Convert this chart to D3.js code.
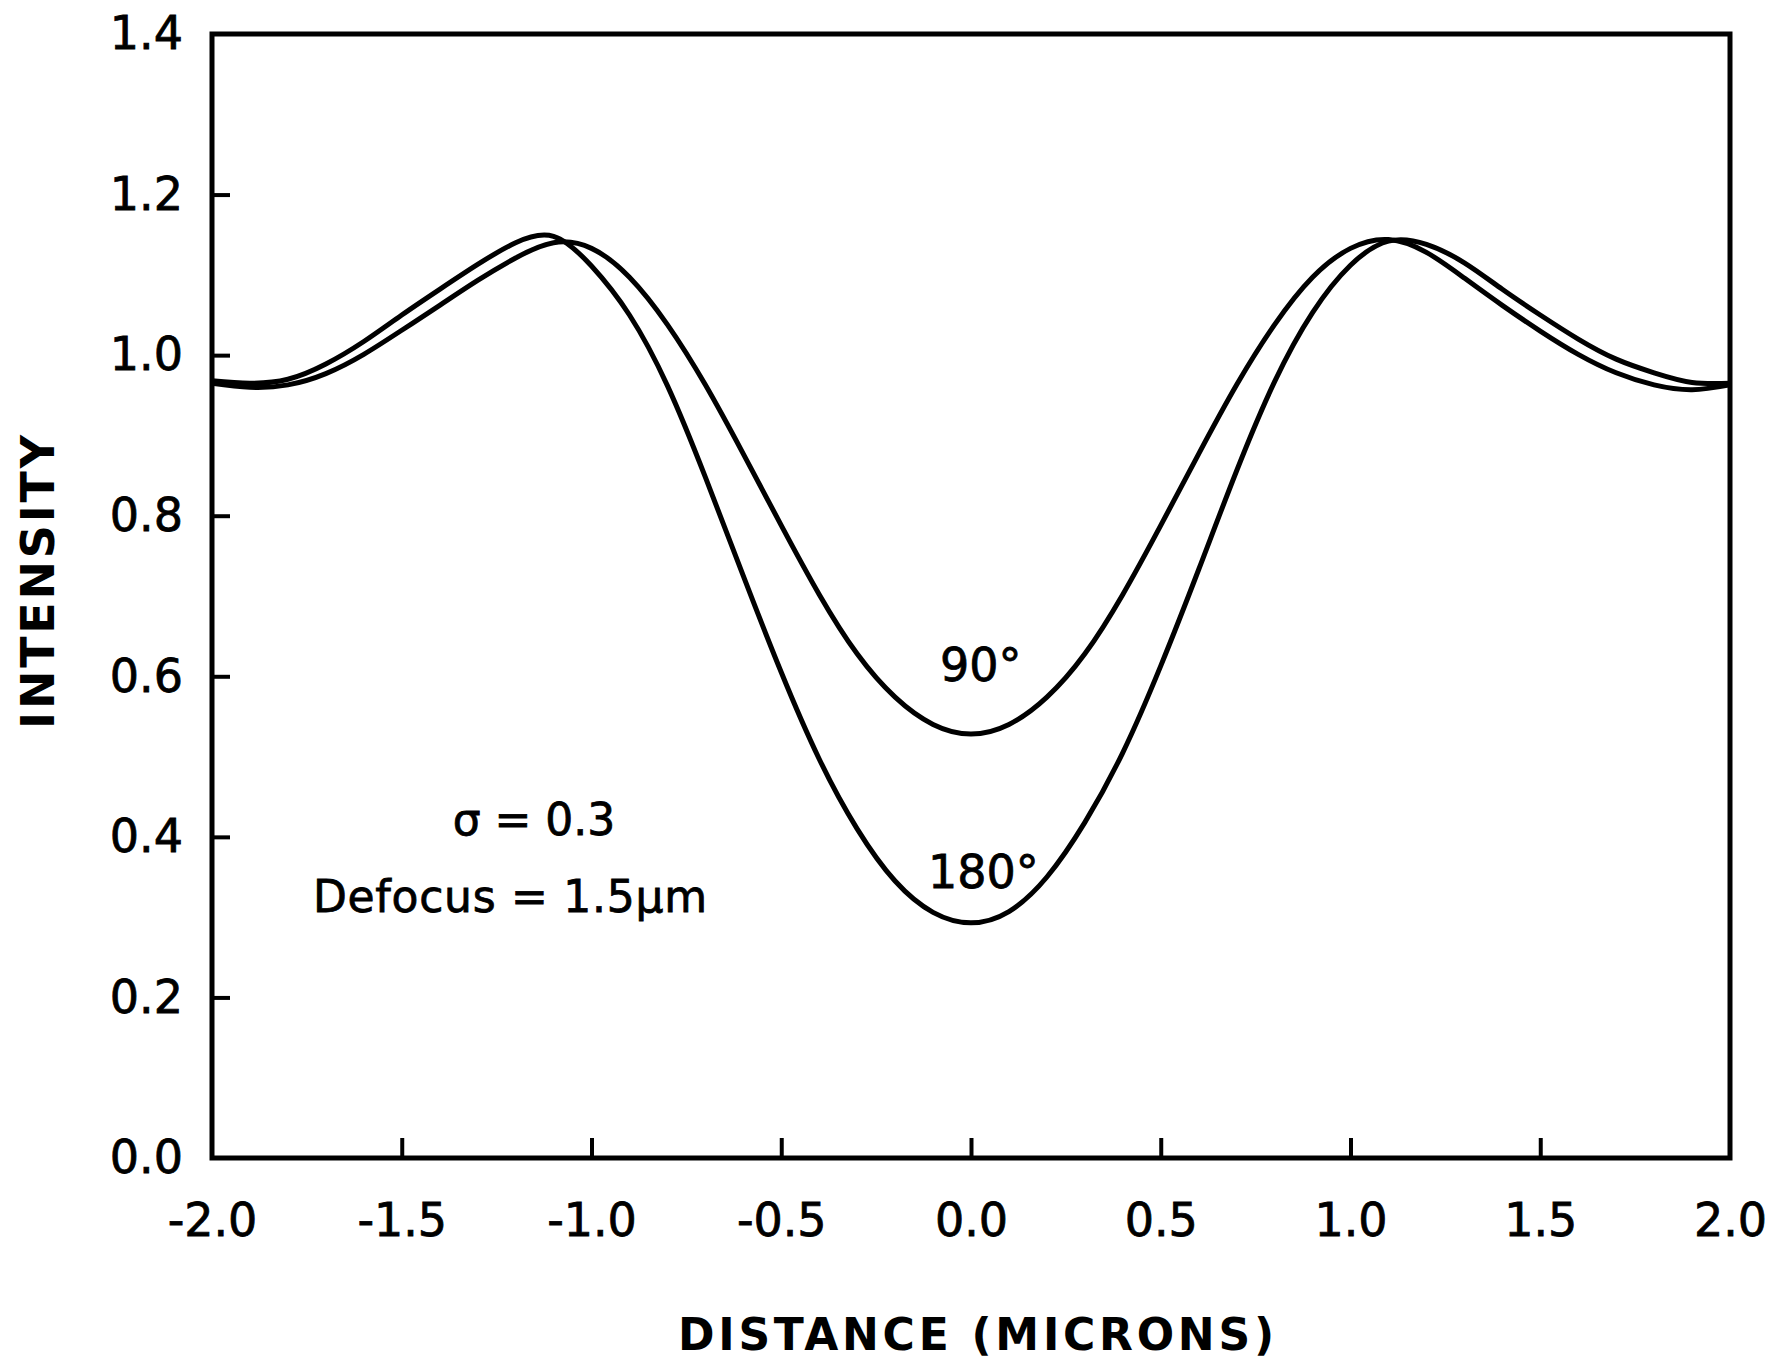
<!DOCTYPE html>
<html>
<head>
<meta charset="utf-8">
<script src="https://cdn.jsdelivr.net/npm/d3@7"></script>
<style>
  body { margin: 0; background: #fff; }
  svg { display: block; }
  .tick text { font-family: "DejaVu Sans", sans-serif; font-size: 46px; fill: #000; stroke: #000; stroke-width: 0.8px; }
  .tick line { stroke: #000; stroke-width: 4; }
  .title { font-family: "DejaVu Sans", sans-serif; font-weight: bold; fill: #000; }
  .note { font-family: "DejaVu Sans", sans-serif; fill: #000; stroke: #000; stroke-width: 0.8px; }
</style>
</head>
<body>
<svg id="chart" width="1771" height="1363"></svg>
<script>
// Values: intensity vs. distance (microns)
var distance = [-2.0, -1.9, -1.8, -1.7, -1.6, -1.5, -1.4, -1.3, -1.2, -1.1,
                -1.0, -0.9, -0.8, -0.7, -0.6, -0.5, -0.4, -0.3, -0.2, -0.1,
                 0.0,  0.1,  0.2,  0.3,  0.4,  0.5,  0.6,  0.7,  0.8,  0.9,
                 1.0,  1.1,  1.2,  1.3,  1.4,  1.5,  1.6,  1.7,  1.8,  1.9, 2.0];

var intensity90 = [0.965, 0.960, 0.963, 0.977, 1.001, 1.031, 1.062, 1.093, 1.121, 1.140,
                   1.133, 1.097, 1.038, 0.963, 0.877, 0.788, 0.702, 0.628, 0.574, 0.540,
                   0.528, 0.540, 0.574, 0.628, 0.702, 0.788, 0.877, 0.963, 1.038, 1.097,
                   1.133, 1.144, 1.128, 1.096, 1.062, 1.030, 1.001, 0.978, 0.963, 0.957, 0.963];

var intensity180 = [0.968, 0.965, 0.970, 0.989, 1.017, 1.050, 1.082, 1.113, 1.140, 1.148,
                    1.111, 1.050, 0.962, 0.848, 0.725, 0.605, 0.497, 0.410, 0.345, 0.306,
                    0.293, 0.307, 0.350, 0.418, 0.505, 0.613, 0.733, 0.856, 0.967, 1.053,
                    1.112, 1.142, 1.138, 1.115, 1.082, 1.050, 1.020, 0.995, 0.978, 0.966, 0.965];

var xTicks = [-2.0, -1.5, -1.0, -0.5, 0.0, 0.5, 1.0, 1.5, 2.0];
var yTicks = [0.0, 0.2, 0.4, 0.6, 0.8, 1.0, 1.2, 1.4];

var svg = d3.select('#chart');

// Plot frame in pixels
var plot = { l: 212, r: 1730, t: 34, b: 1158 };

var xScale = d3.scaleLinear().domain([-2, 2]).range([plot.l, plot.r]);
var yScale = d3.scaleLinear().domain([0, 1.4]).range([plot.b, plot.t]);

// plain hyphen for negatives, like the lettering on the original
var fmt = function (d) { return d3.format('.1f')(d).replace('\u2212', '-'); };

// Left axis, ticks pointing inward
var yAxis = d3.axisLeft(yScale)
    .tickValues(yTicks)
    .tickSize(-18)
    .tickPadding(29)
    .tickFormat(fmt);

svg.append('g')
    .attr('transform', 'translate(' + plot.l + ',0)')
    .call(yAxis)
    .call(function (g) { g.select('.domain').remove(); })
    .call(function (g) {
        // no tick marks at the frame corners
        g.selectAll('.tick').filter(function (d) { return d === 0 || d === 1.4; })
            .select('line').remove();
    });

// Bottom axis, ticks pointing up
var xAxis = d3.axisBottom(xScale)
    .tickValues(xTicks)
    .tickSize(-20)
    .tickPadding(45)
    .tickFormat(fmt);

svg.append('g')
    .attr('transform', 'translate(0,' + plot.b + ')')
    .call(xAxis)
    .call(function (g) { g.select('.domain').remove(); })
    .call(function (g) {
        g.selectAll('.tick').filter(function (d) { return d === -2 || d === 2; })
            .select('line').remove();
    });

// Frame
svg.append('rect')
    .attr('x', plot.l)
    .attr('y', plot.t)
    .attr('width', plot.r - plot.l)
    .attr('height', plot.b - plot.t)
    .attr('fill', 'none')
    .attr('stroke', '#000')
    .attr('stroke-width', 5);

// Curves
var line = d3.line()
    .x(function (d) { return xScale(d[0]); })
    .y(function (d) { return yScale(d[1]); })
    .curve(d3.curveNatural);

[intensity90, intensity180].forEach(function (series) {
    svg.append('path')
        .datum(d3.zip(distance, series))
        .attr('d', line)
        .attr('fill', 'none')
        .attr('stroke', '#000')
        .attr('stroke-width', 5)
        .attr('stroke-linejoin', 'round');
});

// Curve labels
svg.append('text').attr('class', 'note')
    .attr('x', 940).attr('y', 681)
    .attr('font-size', 46)
    .text('90\u00B0');

svg.append('text').attr('class', 'note')
    .attr('x', 928).attr('y', 888)
    .attr('font-size', 46)
    .text('180\u00B0');

// Parameters note
svg.append('text').attr('class', 'note')
    .attr('x', 534).attr('y', 835)
    .attr('text-anchor', 'middle')
    .attr('font-size', 44)
    .text('\u03C3 = 0.3');

svg.append('text').attr('class', 'note')
    .attr('x', 313).attr('y', 912)
    .attr('font-size', 44)
    .attr('textLength', 394)
    .attr('lengthAdjust', 'spacing')
    .text('Defocus = 1.5\u03BCm');

// Axis titles
svg.append('text').attr('class', 'title')
    .attr('x', 976).attr('y', 1350)
    .attr('text-anchor', 'middle')
    .attr('font-size', 44)
    .attr('textLength', 596)
    .attr('lengthAdjust', 'spacing')
    .text('DISTANCE (MICRONS)');

svg.append('text').attr('class', 'title')
    .attr('transform', 'translate(54,582) rotate(-90)')
    .attr('text-anchor', 'middle')
    .attr('font-size', 46)
    .attr('textLength', 294)
    .attr('lengthAdjust', 'spacing')
    .text('INTENSITY');
</script>
</body>
</html>
